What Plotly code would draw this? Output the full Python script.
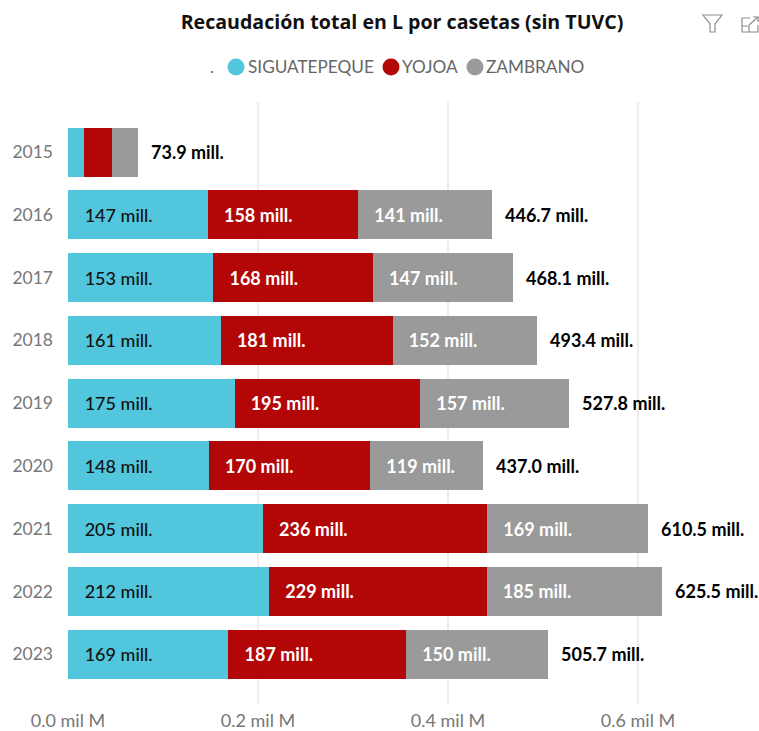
import plotly.graph_objects as go

years = ["2015","2016","2017","2018","2019","2020","2021","2022","2023"]
siguatepeque = [16.8,147.2,153.0,160.8,175.3,148.2,205.2,211.8,168.9]
yojoa = [29.9,158.2,168.0,180.8,195.3,169.9,236.1,228.8,186.9]
zambrano = [27.2,141.3,147.1,151.8,157.2,118.9,169.2,184.9,149.9]
totals = [73.9,446.7,468.1,493.4,527.8,437.0,610.5,625.5,505.7]
axis_ticks = [0,200,400,600]
axis_labels = ["0.0 mil M","0.2 mil M","0.4 mil M","0.6 mil M"]
names = ["SIGUATEPEQUE","YOJOA","ZAMBRANO"]
colors = ["#52C6DC","#B30606","#9A9A9A"]
text_colors = ["#111111","#FFFFFF","#FFFFFF"]

FONT = "Lato"
W, H = 759, 731
L, R, T, B = 68, 0, 102, 26
pw, ph = W-L-R, H-T-B
px = lambda x: (x-L)/pw
py = lambda y: (H-B-y)/ph
PAD = "&nbsp;"*3

fig = go.Figure()
for name, vals, c, tc in zip(names, [siguatepeque,yojoa,zambrano], colors, text_colors):
    labels = [PAD+f"{v:.0f} mill." if v > 50 else "" for v in vals]
    fig.add_bar(y=years, x=vals, name=name, orientation="h", marker=dict(color=c, line_width=0),
                text=labels, textposition="inside", insidetextanchor="start", textangle=0,
                constraintext="none", cliponaxis=False,
                insidetextfont=dict(family=FONT, size=18, color=tc, weight=500 if tc=="#111111" else 700),
                showlegend=False, hoverinfo="skip")

shapes, annots = [], []
for i, tot in enumerate(totals):
    annots.append(dict(text=f"<b>{tot:.1f} mill.</b>", x=tot, y=i, xref="x", yref="y", xanchor="left",
                       yanchor="middle", xshift=11, showarrow=False,
                       font=dict(family=FONT, size=18, color="#000000")))
# legend
for cx, c in zip([236,391,475], colors):
    shapes.append(dict(type="circle", xref="paper", yref="paper", x0=px(cx-8.5), x1=px(cx+8.5),
                       y0=py(75.5), y1=py(58.5), fillcolor=c, line_width=0))
for tx, t in zip([248,402,486], names):
    annots.append(dict(text=t, xref="paper", yref="paper", x=px(tx), y=py(67), xanchor="left", yanchor="middle",
                       showarrow=False, xshift=-2, font=dict(family=FONT, size=17.2, color="#666666")))
annots.append(dict(text=".", xref="paper", yref="paper", x=px(212), y=py(67), xanchor="center", yanchor="middle",
                   showarrow=False, font=dict(family=FONT, size=17, color="#666666")))
# header icons
def path(points, close=False):
    s = "M " + " L ".join(f"{px(a)},{py(b)}" for a,b in points)
    return s + (" Z" if close else "")
icon = dict(color="#8C8C8C", width=1.2)
shapes.append(dict(type="path", xref="paper", yref="paper", line=icon,
                   path=path([(703,15),(722,15),(715,24),(715,32),(710,32),(710,24)], True)))
shapes.append(dict(type="path", xref="paper", yref="paper", line=icon,
                   path=path([(750,18),(742,18),(742,32),(758,32),(758,25)])))
shapes.append(dict(type="path", xref="paper", yref="paper", line=icon,
                   path=path([(742,26),(749,26),(749,32)])))
shapes.append(dict(type="path", xref="paper", yref="paper", line=icon,
                   path=path([(749,25),(758,17)])))
shapes.append(dict(type="path", xref="paper", yref="paper", line=icon,
                   path=path([(753,17),(758,17),(758,22)])))

fig.update_layout(
    width=W, height=H, margin=dict(l=L, r=R, t=T, b=B, pad=0),
    paper_bgcolor="white", plot_bgcolor="white", barmode="stack", bargap=0.22,
    title=dict(text="<b>Recaudación total en L por casetas (sin TUVC)</b>", x=402/W, xanchor="center",
               y=1-22/H, yanchor="middle", font=dict(family="Open Sans", size=19.6, color="#111111")),
    shapes=shapes, annotations=annots, hovermode=False,
    xaxis=dict(range=[0, pw/0.95], tickvals=axis_ticks, ticktext=axis_labels, showgrid=True, gridcolor="#EDEDED",
               gridwidth=1.5, zeroline=False, showline=False, ticks="", ticklen=0, ticklabelstandoff=3,
               tickfont=dict(family=FONT, size=18, color="#777777")),
    yaxis=dict(type="category", categoryorder="array", categoryarray=years, range=[8.81,-0.797], showgrid=False,
               zeroline=False, showline=False, ticks="", ticklabelstandoff=14,
               tickfont=dict(family=FONT, size=17.5, color="#777777")),
)
fig.write_html("out.html", config={"displayModeBar": False},
               post_script="document.body.style.margin='0';document.body.style.overflow='hidden';")
